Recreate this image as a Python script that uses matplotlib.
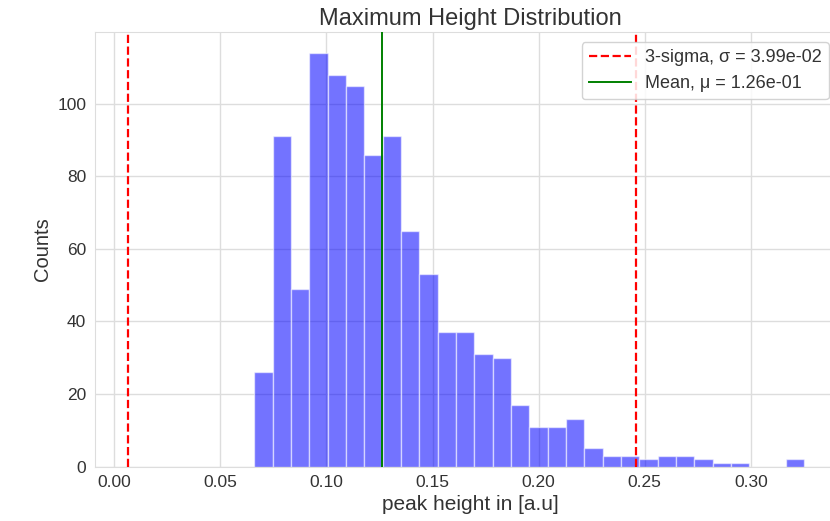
import numpy as np
import matplotlib.pyplot as plt

# histogram: 30 bins between bin_lo and bin_hi
counts = [26, 91, 49, 114, 108, 105, 86, 91, 65, 53,
          37, 37, 31, 30, 17, 11, 11, 13, 5, 3,
          3, 2, 3, 3, 2, 1, 1, 0, 0, 2]
bin_lo = 0.0660
bin_hi = 0.3252
mean_val = 0.1264
sigma_val = 0.0399

edges = np.linspace(bin_lo, bin_hi, len(counts) + 1)
centers = 0.5 * (edges[1:] + edges[:-1])

plt.rcParams['font.family'] = ['Liberation Sans', 'DejaVu Sans']
plt.rcParams['text.color'] = '#333333'
plt.rcParams['axes.labelcolor'] = '#333333'
plt.rcParams['xtick.color'] = '#333333'
plt.rcParams['ytick.color'] = '#333333'

fig = plt.figure(figsize=(8.3, 5.21), dpi=100)
ax = fig.add_axes([0.1141, 0.1046, 0.9046, 0.8334])

ax.hist(centers, bins=edges, weights=counts, color="blue", alpha=0.55,
        edgecolor="white", linewidth=1, zorder=2)
ax.axvline(mean_val - 3 * sigma_val, color="red", linestyle="--", lw=1.6,
           label="3-sigma, σ = %.2e" % sigma_val, zorder=3)
ax.axvline(mean_val + 3 * sigma_val, color="red", linestyle="--", lw=1.6, zorder=3)
ax.axvline(mean_val, color="green", lw=1.4, label="Mean, μ = %.2e" % mean_val, zorder=3)

ax.set_xlim(-0.0092, 0.3446)
ax.set_title("Maximum Height Distribution", fontsize=17, pad=5)
ax.set_xlabel("peak height in [a.u]", fontsize=15)
ax.set_ylabel("Counts", fontsize=14.5)
ax.set_xticks([0.0, 0.05, 0.10, 0.15, 0.20, 0.25, 0.30])
ax.set_yticks([0, 20, 40, 60, 80, 100])
ax.tick_params(labelsize=12.5, length=0, pad=6)

ax.grid(True, color="#dddddd", lw=1, zorder=0)
ax.set_axisbelow(True)
for s in ax.spines.values():
    s.set_color("#dddddd")

ax.legend(loc="upper right", bbox_to_anchor=(829 / 830, 479 / 521),
          bbox_transform=fig.transFigure, borderaxespad=0,
          fontsize=13, handlelength=2.3, framealpha=0.85, edgecolor="#cccccc")

fig.savefig("out.png", dpi=100)
